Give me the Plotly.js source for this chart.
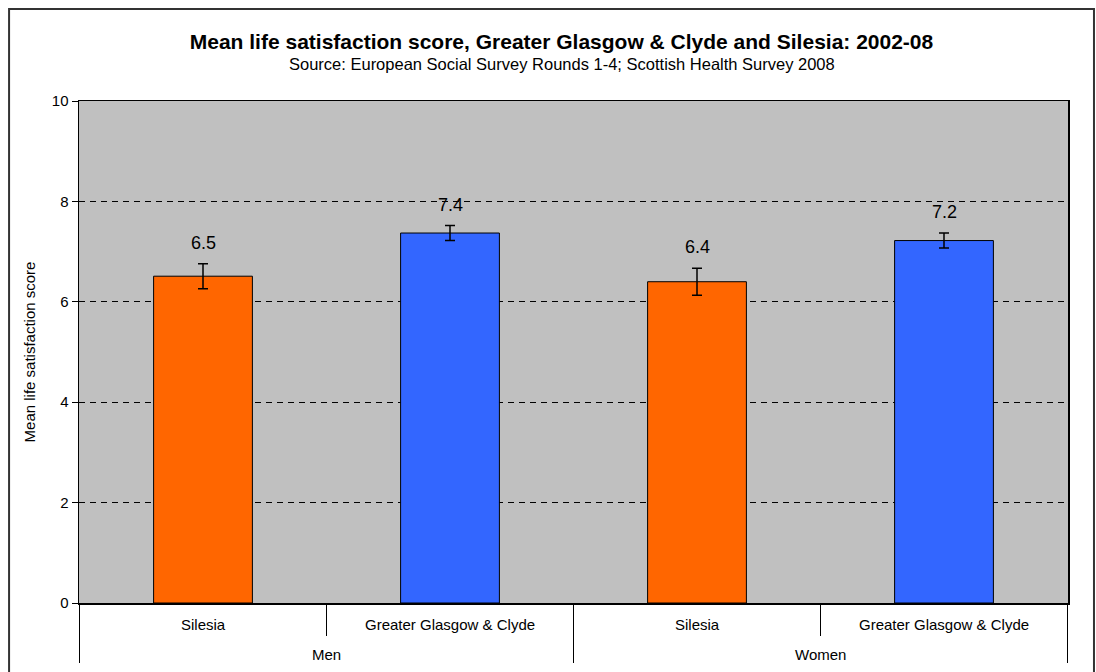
<!DOCTYPE html>
<html>
<head>
<meta charset="utf-8">
<script src="https://cdn.plot.ly/plotly-3.0.1.min.js"></script>
<style>html,body{margin:0;padding:0;background:#fff;}#chart{width:1096px;height:672px;}</style>
</head>
<body>
<div id="chart"></div>
<script>
const groups = ["Men", "Men", "Women", "Women"];
const areas = ["Silesia", "Greater Glasgow & Clyde", "Silesia", "Greater Glasgow & Clyde"];
const meanScore = [6.51, 7.37, 6.40, 7.22];
const errHalf = [0.25, 0.15, 0.27, 0.15];
const barColors = ["#FF6600", "#3366FF", "#FF6600", "#3366FF"];
const yTicks = [0, 2, 4, 6, 8, 10];

const FONT = "Liberation Sans, Arial, sans-serif";
const PLOT_TOP = 101, PLOT_BOTTOM = 603, PLOT_H = PLOT_BOTTOM - PLOT_TOP;
const TITLE_X = (562 - 79) / 990;

const trace = {
  type: "bar",
  x: [groups, areas],
  y: meanScore,
  marker: { color: barColors, line: { color: "#000", width: 1 } },
  error_y: { type: "data", array: errHalf, visible: true, color: "#000", thickness: 1.5, width: 5 },
  hoverinfo: "none"
};

const annotations = [];
meanScore.forEach((v, i) => annotations.push({
  x: i, y: v + errHalf[i], xref: "x", yref: "y",
  text: v.toFixed(1), showarrow: false, yanchor: "bottom", yshift: 9,
  font: { family: FONT, size: 18, color: "#000" }
}));
areas.forEach((a, i) => annotations.push({
  x: i, y: 0, xref: "x", yref: "paper", yshift: -21, yanchor: "middle",
  text: a.replace("&", "&amp;"), showarrow: false,
  font: { family: FONT, size: 15, color: "#000" }
}));

// group spans
const groupSpans = [];
groups.forEach((g, i) => {
  const last = groupSpans[groupSpans.length - 1];
  if (last && last.name === g) last.end = i; else groupSpans.push({ name: g, start: i, end: i });
});
groupSpans.forEach(s => annotations.push({
  x: (s.start + s.end) / 2, y: 0, xref: "x", yref: "paper", yshift: -51, yanchor: "middle",
  text: s.name, showarrow: false,
  font: { family: FONT, size: 15, color: "#000" }
}));
annotations.push({
  text: "Source: European Social Survey Rounds 1-4; Scottish Health Survey 2008",
  xref: "paper", yref: "paper", x: TITLE_X, y: (PLOT_BOTTOM - 64) / PLOT_H, yanchor: "middle", xanchor: "center",
  showarrow: false, font: { family: FONT, size: 16.5, color: "#000" }
});

const dividerBounds = [groupSpans[0].start - 0.5].concat(groupSpans.map(s => s.end + 0.5));
const shapes = dividerBounds.map(b => ({
  type: "line", xref: "x", yref: "paper", x0: b, x1: b,
  y0: 0, y1: (PLOT_BOTTOM - 663) / PLOT_H,
  line: { color: "#000", width: 1 }
}));
shapes.push({
  type: "rect", xref: "paper", yref: "paper",
  x0: (9 - 79) / 990, x1: (1095 - 79) / 990,
  y0: -0.3, y1: (PLOT_BOTTOM - 9) / PLOT_H,
  line: { color: "#333", width: 2 }, fillcolor: "rgba(0,0,0,0)", layer: "below"
});

const layout = {
  width: 1096, height: 672,
  margin: { l: 79, r: 28, t: PLOT_TOP, b: 672 - PLOT_BOTTOM },
  paper_bgcolor: "#fff",
  plot_bgcolor: "#C0C0C0",
  bargap: 0.6,
  showlegend: false,
  font: { family: FONT, color: "#000" },
  title: {
    text: "<b>Mean life satisfaction score, Greater Glasgow &amp; Clyde and Silesia: 2002-08</b>",
    font: { family: FONT, size: 21, color: "#000" },
    x: TITLE_X, xref: "paper", xanchor: "center",
    y: 1 - 42 / 672, yref: "container", yanchor: "middle"
  },
  xaxis: {
    type: "multicategory",
    showline: true, linecolor: "#000", linewidth: 1.5, mirror: true,
    ticks: "outside", ticklen: 31, tickcolor: "#000", tickwidth: 1,
    tickson: "boundaries",
    showdividers: false,
    showticklabels: false,
    showgrid: false
  },
  yaxis: {
    range: [0, 10], tickvals: yTicks, ticktext: yTicks.map(String),
    showline: true, linecolor: "#000", linewidth: 1.5, mirror: true,
    ticks: "outside", ticklen: 6, tickcolor: "#000",
    showgrid: true, gridcolor: "#000", gridwidth: 1, griddash: "6px,5px",
    zeroline: false,
    tickfont: { family: FONT, size: 15, color: "#000" },
    title: { text: "Mean life satisfaction score", font: { family: FONT, size: 15, color: "#000" }, standoff: 12 }
  },
  annotations: annotations,
  shapes: shapes
};

Plotly.newPlot("chart", [trace], layout, { displayModeBar: false, staticPlot: true });
</script>
</body>
</html>
